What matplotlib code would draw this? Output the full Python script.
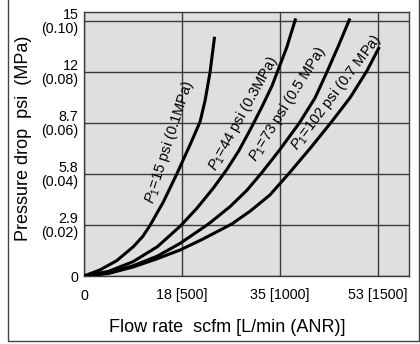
import matplotlib
matplotlib.use("Agg")
import matplotlib.pyplot as plt
from matplotlib.patches import Rectangle

plt.rcParams['font.family'] = ['Liberation Sans', 'DejaVu Sans']
plt.rcParams['mathtext.fontset'] = 'custom'
plt.rcParams['mathtext.rm'] = 'Liberation Sans'
plt.rcParams['mathtext.it'] = 'Liberation Sans:italic'

# flow rate in L/min (ANR), pressure drop in MPa
q_01 = [0, 82, 167, 252, 300, 337, 405, 474, 542, 593, 619, 644, 666]
p_01 = [0, 0.0024, 0.006, 0.0115, 0.0155, 0.0198, 0.029, 0.040, 0.0515, 0.0605, 0.069,
        0.080, 0.0932]

q_03 = [0, 125, 250, 375, 491, 576, 661, 730, 790, 850, 910, 960, 990, 1035, 1079]
p_03 = [0, 0.0018, 0.0056, 0.0115, 0.0195, 0.0265, 0.0345, 0.0418, 0.049, 0.0575, 0.0665,
        0.0745, 0.0805, 0.0895, 0.1004]

q_05 = [0, 125, 250, 375, 491, 636, 746, 832, 908, 1000, 1100, 1180, 1241, 1300, 1355]
p_05 = [0, 0.0012, 0.004, 0.0078, 0.0128, 0.0204, 0.0272, 0.0336, 0.0405, 0.0495, 0.060,
        0.0698, 0.080, 0.0903, 0.1004]

q_07 = [0, 125, 250, 375, 491, 600, 755, 850, 950, 1050, 1160, 1265, 1360, 1445, 1505]
p_07 = [0, 0.001, 0.0035, 0.0068, 0.0102, 0.0142, 0.0204, 0.0255, 0.0318, 0.0405, 0.0505,
        0.0605, 0.070, 0.0804, 0.0893]

curve_labels = [r"$P_1$=15 psi (0.1MPa)", r"$P_1$=44 psi (0.3MPa)",
                r"$P_1$=73 psi (0.5 MPa)", r"$P_1$=102 psi (0.7 MPa)"]

x_ticks = [0, 500, 1000, 1500]
x_ticklabels = ["0", "18 [500]", "35 [1000]", "53 [1500]"]
y_ticks = [0, 0.02, 0.04, 0.06, 0.08, 0.10]
y_ticklabels = ["0", "2.9\n(0.02)", "5.8\n(0.04)", "8.7\n(0.06)", "12\n(0.08)", "15\n(0.10)"]

W, H = 420, 344
fig = plt.figure(figsize=(W / 100, H / 100), dpi=100)
ax = fig.add_axes([84 / W, 1 - 276 / H, (409 - 84) / W, (276 - 12) / H])
ax.set_facecolor('#dfdfe1')

for q, p in [(q_01, p_01), (q_03, p_03), (q_05, p_05), (q_07, p_07)]:
    ax.plot(q, p, color='black', lw=2.2, zorder=3, solid_joinstyle='round')

ax.set_xlim(0, 1660)
ax.set_ylim(0, 0.1035)
ax.set_xticks(x_ticks)
ax.set_xticklabels(x_ticklabels, fontsize=10.3)
ax.set_yticks(y_ticks)
ax.set_yticklabels(y_ticklabels, fontsize=10.3, linespacing=0.95)
ax.tick_params(length=0, pad=4)
ax.tick_params(axis='x', pad=9)
ax.grid(True, color='#3a3a3a', lw=1)
for s in ax.spines.values():
    s.set_color('#3a3a3a')
    s.set_linewidth(1)

# curve labels placed along the curves (pixel positions, angle)
label_pos = [(169, 142, 72), (243, 113, 61), (288, 104, 58), (336, 92, 53)]
for txt, (px, py, ang) in zip(curve_labels, label_pos):
    fig.text(px / W, 1 - py / H, txt, rotation=ang, fontsize=10.5,
             ha='center', va='center', rotation_mode='anchor', zorder=5)

fig.text(227 / W, 1 - 327 / H, "Flow rate  scfm [L/min (ANR)]", fontsize=13,
         ha='center', va='center')
fig.text(24 / W, 1 - 138 / H, "Pressure drop  psi  (MPa)", fontsize=13,
         ha='center', va='center', rotation=90)

fig.patches.append(Rectangle((7.5 / W, 1 - 341 / H), (418.5 - 7.5) / W, 341 / H + 0.05,
                             transform=fig.transFigure, fill=False, ec='#444444', lw=1))

fig.savefig("out.png", dpi=100)
